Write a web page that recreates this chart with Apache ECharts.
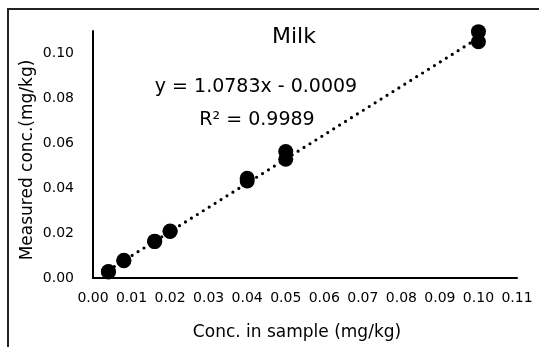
<!DOCTYPE html>
<html>
<head>
<meta charset="utf-8">
<script src="https://cdn.jsdelivr.net/npm/echarts@6/dist/echarts.min.js"></script>
<style>
  html, body { margin: 0; padding: 0; background: #fff; }
  #chart { width: 539px; height: 347px; }
</style>
</head>
<body>
<div id="chart"></div>
<script>
// spiked concentration in sample (mg/kg), replicates share the same x
const concX = [0.004, 0.004, 0.008, 0.008, 0.016, 0.016, 0.02, 0.02, 0.04, 0.04, 0.05, 0.05, 0.1, 0.1]
// measured concentration (mg/kg)
const measuredY = [0.0027, 0.0029, 0.0077, 0.0079, 0.0162, 0.0164, 0.0207, 0.0209, 0.0432, 0.0444, 0.0529, 0.0563, 0.1052, 0.1097]
// linear trendline shown on the chart
const slope = 1.0783
const intercept = -0.0009
const trendRange = [0.004, 0.1]
const eqText = 'y = 1.0783x - 0.0009'
const r2Text = 'R² = 0.9989'

const font = '"DejaVu Sans", Verdana, sans-serif'

const points = concX.map((x, i) => [x, measuredY[i]])
const trend = trendRange.map(x => [x, slope * x + intercept])

const myChart = echarts.init(document.getElementById('chart'), null, { renderer: 'canvas' })
myChart.setOption({
	animation: false,
	backgroundColor: '#fff',
	grid: { left: 93, right: 22, top: 31, bottom: 69 },
	xAxis: {
		type: 'value',
		min: 0,
		max: 0.11,
		interval: 0.01,
		axisLine: { show: true, onZero: false, lineStyle: { color: '#000', width: 2 } },
		axisTick: { show: false },
		splitLine: { show: false },
		axisLabel: {
			margin: 13,
			color: '#000',
			fontFamily: font,
			fontSize: 14,
			formatter: v => v.toFixed(2)
		}
	},
	yAxis: {
		type: 'value',
		min: 0,
		max: 0.11,
		interval: 0.02,
		axisLine: { show: true, lineStyle: { color: '#000', width: 2 } },
		axisTick: { show: false },
		splitLine: { show: false },
		axisLabel: {
			margin: 19,
			color: '#000',
			fontFamily: font,
			fontSize: 14,
			formatter: v => (Math.round(v * 100) % 2 === 0 ? v.toFixed(2) : '')
		}
	},
	series: [
		{
			type: 'line',
			data: trend,
			symbol: 'none',
			silent: true,
			lineStyle: { color: '#000', width: 3.2, type: [0, 7], cap: 'round' },
			z: 1
		},
		{
			type: 'scatter',
			data: points,
			symbol: 'circle',
			symbolSize: 15,
			clip: false,
			itemStyle: { color: '#000', opacity: 1 },
			z: 2
		}
	],
	graphic: [
		{
			type: 'rect',
			shape: { x: 8, y: 9, width: 700, height: 500 },
			style: { fill: 'none', stroke: '#222', lineWidth: 2 },
			silent: true
		},
		{
			type: 'text', x: 294, y: 37,
			style: { text: 'Milk', font: '22px ' + font, fill: '#000', textAlign: 'center', textVerticalAlign: 'middle' }
		},
		{
			type: 'text', x: 256, y: 87,
			style: { text: eqText, font: '19px ' + font, fill: '#000', textAlign: 'center', textVerticalAlign: 'middle' }
		},
		{
			type: 'text', x: 257, y: 120,
			style: { text: r2Text, font: '19px ' + font, fill: '#000', textAlign: 'center', textVerticalAlign: 'middle' }
		},
		{
			type: 'text', x: 297, y: 333,
			style: { text: 'Conc. in sample (mg/kg)', font: '17px ' + font, fill: '#000', textAlign: 'center', textVerticalAlign: 'middle' }
		},
		{
			type: 'text', x: 28, y: 160, rotation: Math.PI / 2,
			style: { text: 'Measured conc.(mg/kg)', font: '17px ' + font, fill: '#000', textAlign: 'center', textVerticalAlign: 'middle' }
		}
	]
})
</script>
</body>
</html>
